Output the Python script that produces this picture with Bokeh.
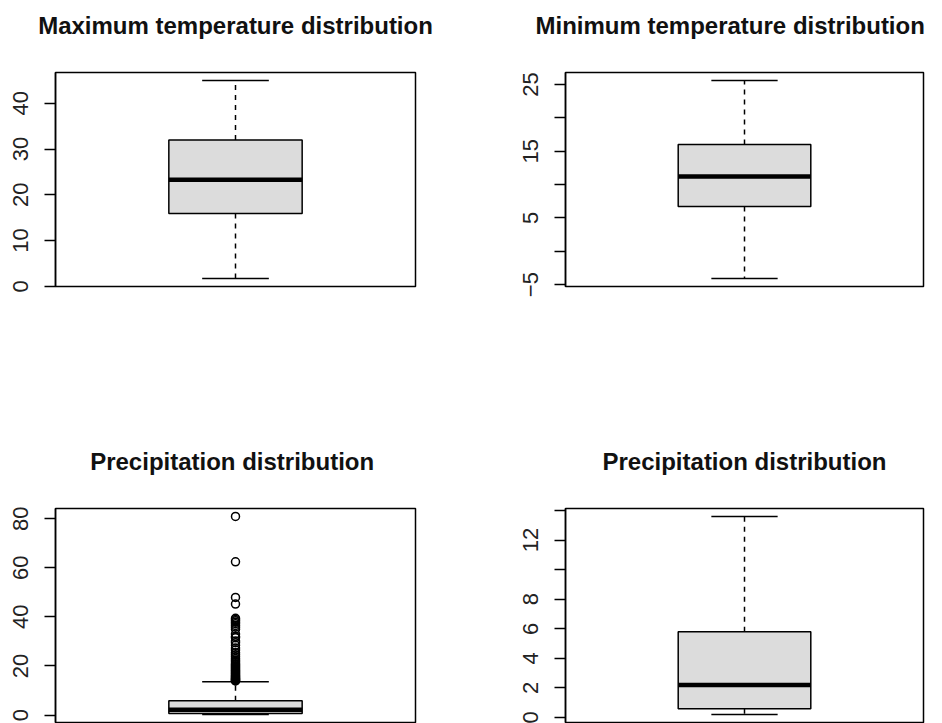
from bokeh.plotting import figure
from bokeh.models import Range1d, FixedTicker, Title
from bokeh.layouts import column, row
from bokeh.embed import file_html
from bokeh.resources import INLINE

# ---- data ----
max_temp_stats = [1.7, 15.9, 23.3, 32.0, 45.0]      # low whisker, q1, median, q3, high whisker
min_temp_stats = [-4.1, 6.7, 11.2, 16.0, 25.6]
precip_stats = [0.2, 0.6, 2.2, 5.8, 13.6]
precip_outliers = [80.9, 62.4, 47.9, 45.2, 39.4, 38.9, 38.4, 37.8, 37.2, 36.5, 35.8,
                   35.0, 33.0, 32.0, 31.5, 30.2, 29.5, 28.4, 27.3, 26.5, 25.4, 24.6,
                   23.8, 23.0, 22.4, 21.9, 21.4, 20.9, 20.5, 20.1, 19.7, 19.3, 18.9,
                   18.5, 18.1, 17.8, 17.5, 17.2, 16.9, 16.6, 16.3, 16.0, 15.8, 15.5,
                   15.3, 15.0, 14.8, 14.6, 14.4, 14.2, 14.0, 13.9]

titles = ["Maximum temperature distribution", "Minimum temperature distribution",
          "Precipitation  distribution", "Precipitation distribution"]
ticks_max = [0, 10, 20, 30, 40]
labels_max = ["0", "10", "20", "30", "40"]
ticks_min = [-5, 0, 5, 10, 15, 20, 25]
labels_min = ["\u22125", "", "5", "", "15", "", "25"]
ticks_p1 = [0, 20, 40, 60, 80]
labels_p1 = ["0", "20", "40", "60", "80"]
ticks_p2 = [0, 2, 4, 6, 8, 10, 12, 14]
labels_p2 = ["0", "2", "4", "6", "8", "", "12", ""]

FONT = "Liberation Sans"


def make_panel(title, stats, outliers, ticks, labels, bl, fw, br, bt, fh, bb,
               talign="center", toff=0):
    lo, q1, med, q3, hi = stats
    allv = [lo, hi] + list(outliers)
    dmin, dmax = min(allv), max(allv)
    pad = 0.04 * (dmax - dmin)
    p = figure(frame_width=fw, frame_height=fh, min_border_left=bl, min_border_right=br,
               min_border_top=bt, min_border_bottom=bb,
               x_range=Range1d(0.46, 1.54), y_range=Range1d(dmin - pad, dmax + pad),
               x_axis_location=None, toolbar_location=None, output_backend="svg",
               background_fill_color="white", border_fill_color="white")
    p.title = Title(text=title, align=talign, text_font=FONT, text_font_size="24px",
                    text_font_style="bold", text_color="#111111", offset=toff)
    # spacer between title and frame
    p.add_layout(Title(text=" ", text_font_size="16px"), "above")
    p.xgrid.visible = False
    p.ygrid.visible = False
    p.outline_line_color = "black"
    p.outline_line_width = 1.5
    p.outline_line_alpha = 1.0
    ax = p.yaxis[0]
    ax.ticker = FixedTicker(ticks=ticks)
    ax.major_label_overrides = {t: l for t, l in zip(ticks, labels)}
    ax.major_label_orientation = "vertical"
    ax.major_label_text_font = FONT
    ax.major_label_text_font_size = "22px"
    ax.major_label_text_color = "#222222"
    ax.major_label_standoff = 16
    ax.major_tick_out = 11
    ax.major_tick_in = 0
    ax.major_tick_line_width = 1.5
    ax.major_tick_line_color = "black"
    ax.minor_tick_line_color = None
    ax.axis_line_color = "black"
    ax.axis_line_width = 1.5

    c = 1.0
    bw = 0.2
    cw = 0.1
    # whiskers
    p.segment(x0=[c, c], y0=[q3, q1], x1=[c, c], y1=[hi, lo], line_color="black",
              line_width=1.5, line_dash="5 5")
    # caps
    p.segment(x0=[c - cw, c - cw], y0=[hi, lo], x1=[c + cw, c + cw], y1=[hi, lo],
              line_color="black", line_width=1.5)
    # box
    p.quad(left=[c - bw], right=[c + bw], bottom=[q1], top=[q3], fill_color="#dcdcdc",
           line_color="black", line_width=1.5)
    # median
    p.segment(x0=[c - bw], y0=[med], x1=[c + bw], y1=[med], line_color="black",
              line_width=4.5)
    if outliers:
        p.scatter(x=[c] * len(outliers), y=outliers, marker="circle", size=8,
                  fill_color=None, line_color="black", line_width=1.5)
    return p


p1 = make_panel(titles[0], max_temp_stats, [], ticks_max, labels_max, 55, 360, 55, 72, 214, 75)
p2 = make_panel(titles[1], min_temp_stats, [], ticks_min, labels_min, 95, 358, 19, 72, 214, 75,
                talign="left", toff=-30)
p3 = make_panel(titles[2], precip_stats, precip_outliers, ticks_p1, labels_p1, 55, 360, 55, 147, 214, 1)
p4 = make_panel(titles[3], precip_stats, [], ticks_p2, labels_p2, 95, 358, 19, 147, 214, 1)

layout = column(row(p1, p2, spacing=0), row(p3, p4, spacing=0), spacing=0)
open("out.html", "w").write(file_html(layout, INLINE))
